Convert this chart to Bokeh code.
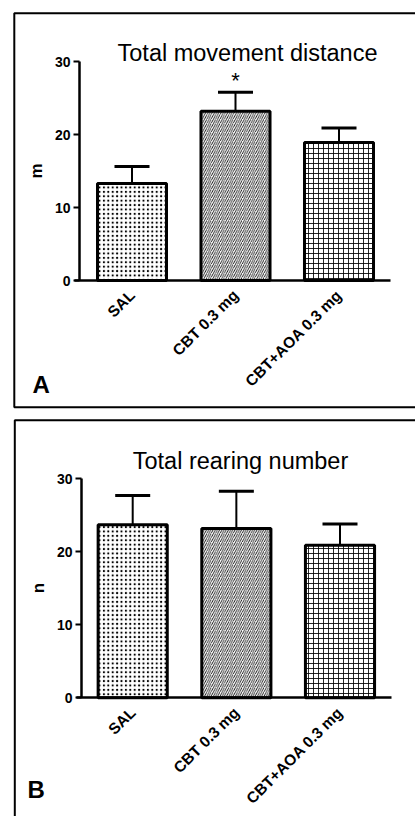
from math import pi

from bokeh.core.properties import value
from bokeh.embed import file_html
from bokeh.layouts import column
from bokeh.models import (BoxAnnotation, ColumnDataSource, FixedTicker, Range1d,
                          TeeHead, Whisker)
from bokeh.plotting import figure
from bokeh.resources import INLINE

# treatment groups, shared by both panels
groups = ["SAL", "CBT 0.3 mg", "CBT+AOA 0.3 mg"]
group_pos = [0, 1, 2]
y_ticks = [0, 10, 20, 30]

# total movement distance (m), mean and SEM
distance_mean = [13.3, 23.2, 18.9]
distance_sem = [2.3, 2.6, 2.0]

# total rearing number (n), mean and SEM
rearing_mean = [23.7, 23.2, 20.9]
rearing_sem = [4.0, 5.1, 2.9]

# fill pattern of each group's bar
hatches = [".", "/", "+"]
hatch_scales = [4.4, 4.4, 5.0]

FONT = "Liberation Sans"
W = 415


def panel(title, ylabel, letter, means, sems, height, geom, box, title_at, letter_at,
          star=None):
    # geom: pixel of the first group's centre, pixels per group,
    #       pixel of value 0, pixels per value unit
    x0, dx, y0, dy = geom

    def xd(px):
        return (px - x0) / dx

    def yd(py):
        return (y0 - py) / dy

    p = figure(width=W, height=height, title=None,
               x_range=Range1d(xd(0), xd(W)), y_range=Range1d(yd(height), yd(0)),
               output_backend="svg", toolbar_location=None,
               min_border=0, min_border_left=0, min_border_right=0,
               min_border_top=0, min_border_bottom=0)
    p.outline_line_color = None
    p.grid.grid_line_color = None
    p.background_fill_color = "white"
    p.border_fill_color = "white"

    # panel frame
    bl, bt, bb = box
    p.add_layout(BoxAnnotation(left=xd(bl), right=xd(W + 20), top=yd(bt), bottom=yd(bb),
                               fill_color=None, fill_alpha=0, line_color="black",
                               line_alpha=1, line_width=2, level="underlay"))

    src = ColumnDataSource(dict(x=group_pos, mean=means,
                                upper=[m + s for m, s in zip(means, sems)],
                                hatch=hatches, scale=hatch_scales))

    whisker = Whisker(source=src, base="x", lower="mean", upper="upper",
                      dimension="height", line_color="black", line_width=2,
                      upper_head=TeeHead(size=35, line_color="black", line_width=3),
                      lower_head=None)
    p.add_layout(whisker)

    p.vbar(x="x", top="mean", bottom=0, width=0.667, source=src,
           fill_color="white", line_color="black", line_width=3,
           hatch_pattern="hatch", hatch_scale="scale", hatch_color="black",
           hatch_weight=0.85)

    if star is not None:
        p.text(x=[group_pos[star]], y=[means[star] + sems[star]], text=["*"],
               text_align="center", text_baseline="bottom", y_offset=1,
               text_font=value(FONT), text_font_size="22px", text_color="black")

    tx, ty = title_at
    p.text(x=[xd(tx)], y=[yd(ty)], text=[title], text_align="center",
           text_baseline="alphabetic", text_font=value(FONT),
           text_font_size="23.5px", text_color="black")

    lx, ly = letter_at
    p.text(x=[xd(lx)], y=[yd(ly)], text=[letter], text_align="left",
           text_baseline="alphabetic", text_font=value(FONT),
           text_font_style="bold", text_font_size="24px", text_color="black")

    ya = p.yaxis[0]
    ya.fixed_location = xd(geom_axis_x[letter])
    ya.bounds = (0, 30)
    ya.ticker = FixedTicker(ticks=y_ticks)
    ya.minor_tick_line_color = None
    ya.major_tick_in = 0
    ya.major_tick_out = 6
    ya.major_tick_line_width = 2
    ya.axis_line_width = 2.5
    ya.major_label_text_font = FONT
    ya.major_label_text_font_style = "bold"
    ya.major_label_text_font_size = "14px"
    ya.major_label_text_color = "black"
    ya.major_label_standoff = 3
    ya.axis_label = ylabel
    ya.axis_label_text_font = FONT
    ya.axis_label_text_font_style = "bold"
    ya.axis_label_text_font_size = "17px"
    ya.axis_label_text_color = "black"
    ya.axis_label_standoff = 6

    xa = p.xaxis[0]
    xa.fixed_location = 0
    xa.bounds = (xd(geom_axis_x[letter] - 5), xd(geom_axis_end[letter]))
    xa.ticker = FixedTicker(ticks=group_pos)
    xa.major_label_overrides = {i: g for i, g in zip(group_pos, groups)}
    xa.major_tick_line_color = None
    xa.minor_tick_line_color = None
    xa.axis_line_width = 2.5
    xa.major_label_orientation = pi / 4
    xa.major_label_text_font = FONT
    xa.major_label_text_font_style = "bold"
    xa.major_label_text_font_size = "15.5px"
    xa.major_label_text_color = "black"
    xa.major_label_standoff = 6
    return p


# pixel column of each panel's value axis and right end of its group axis
geom_axis_x = {"A": 79, "B": 81}
geom_axis_end = {"A": 390, "B": 391}

pa = panel("Total movement distance", "m", "A", distance_mean, distance_sem,
           410, (131.5, 103.5, 280, 7.3), (13.8, 12.8, 406.7),
           (247, 52), (32, 384), star=1)
pb = panel("Total rearing number", "n", "B", rearing_mean, rearing_sem,
           406, (132.2, 103.65, 287.3, 7.3), (14.3, 9.7, 430),
           (240, 50), (27, 379))

layout = column(pa, pb, spacing=0)
open("out.html", "w").write(file_html(layout, INLINE))
